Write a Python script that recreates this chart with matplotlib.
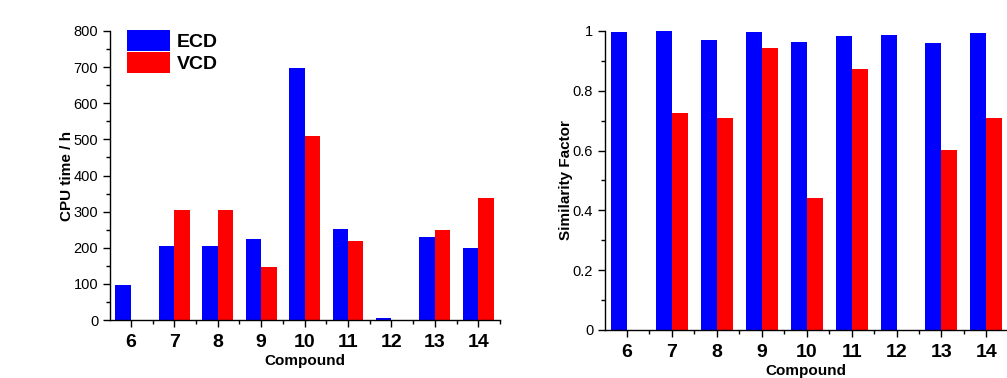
import numpy as np
import matplotlib
matplotlib.use('Agg')
from matplotlib import pyplot as plt
from matplotlib.patches import Patch
from matplotlib.ticker import MultipleLocator, FuncFormatter

compounds = ['6', '7', '8', '9', '10', '11', '12', '13', '14']
cpu_ecd = [97, 205, 205, 223, 697, 252, 5, 230, 200]
cpu_vcd = [0, 305, 305, 148, 510, 220, 0, 248, 338]
sim_ecd = [0.997, 1.0, 0.970, 0.997, 0.964, 0.983, 0.987, 0.961, 0.992]
sim_vcd = [0, 0.727, 0.710, 0.944, 0.440, 0.872, 0, 0.602, 0.708]

BLUE = '#0000ff'
RED = '#ff0000'

plt.rcParams['font.family'] = ['Liberation Sans', 'DejaVu Sans']

fig = plt.figure(figsize=(10.07, 3.78), dpi=100)
ax1 = fig.add_axes([0.1092, 0.1534, 0.3873, 0.7646])
ax2 = fig.add_axes([0.6008, 0.1270, 0.3992, 0.7910])

x = np.arange(len(compounds))
w = 0.355


def style(ax, ecd, vcd, xlim):
    ax.bar(x - w/2, ecd, w, color=BLUE, edgecolor='none')
    ax.bar(x + w/2, vcd, w, color=RED, edgecolor='none')
    ax.set_xlim(*xlim)
    ax.set_xticks(x)
    ax.set_xticklabels(compounds, fontsize=14, fontweight='bold')
    ax.xaxis.set_minor_locator(MultipleLocator(0.5))
    ax.spines['top'].set_visible(False)
    ax.spines['right'].set_visible(False)
    for s in ('left', 'bottom'):
        ax.spines[s].set_linewidth(1.0)
    ax.tick_params(which='major', direction='out', length=5, width=1, labelsize=10.5)
    ax.tick_params(which='minor', direction='out', length=3, width=1)
    ax.tick_params(axis='x', which='major', labelsize=14, pad=5)
    ax.set_xlabel('Compound', fontsize=11, fontweight='bold', labelpad=2)


style(ax1, cpu_ecd, cpu_vcd, (-0.48, 8.5))
ax1.set_ylim(0, 800)
ax1.yaxis.set_major_locator(MultipleLocator(100))
ax1.yaxis.set_minor_locator(MultipleLocator(50))
ax1.set_ylabel('CPU time / h', fontsize=11, fontweight='bold', labelpad=0)

handles = [Patch(facecolor=BLUE, label='ECD'), Patch(facecolor=RED, label='VCD')]
ax1.legend(handles=handles, loc='upper left', bbox_to_anchor=(0.044, 1.005),
           frameon=False, prop={'size': 14, 'weight': 'bold'},
           handlelength=2.2, handleheight=1.3, labelspacing=0.05,
           handletextpad=0.35, borderaxespad=0, borderpad=0)

style(ax2, sim_ecd, sim_vcd, (-0.49, 8.46))
ax2.set_ylim(0, 1)
ax2.yaxis.set_major_locator(MultipleLocator(0.2))
ax2.yaxis.set_minor_locator(MultipleLocator(0.1))
ax2.yaxis.set_major_formatter(FuncFormatter(lambda v, p: '%g' % round(v, 1)))
ax2.set_ylabel('Similarity Factor', fontsize=11, fontweight='bold', labelpad=0)

fig.savefig('out.png', dpi=100)
